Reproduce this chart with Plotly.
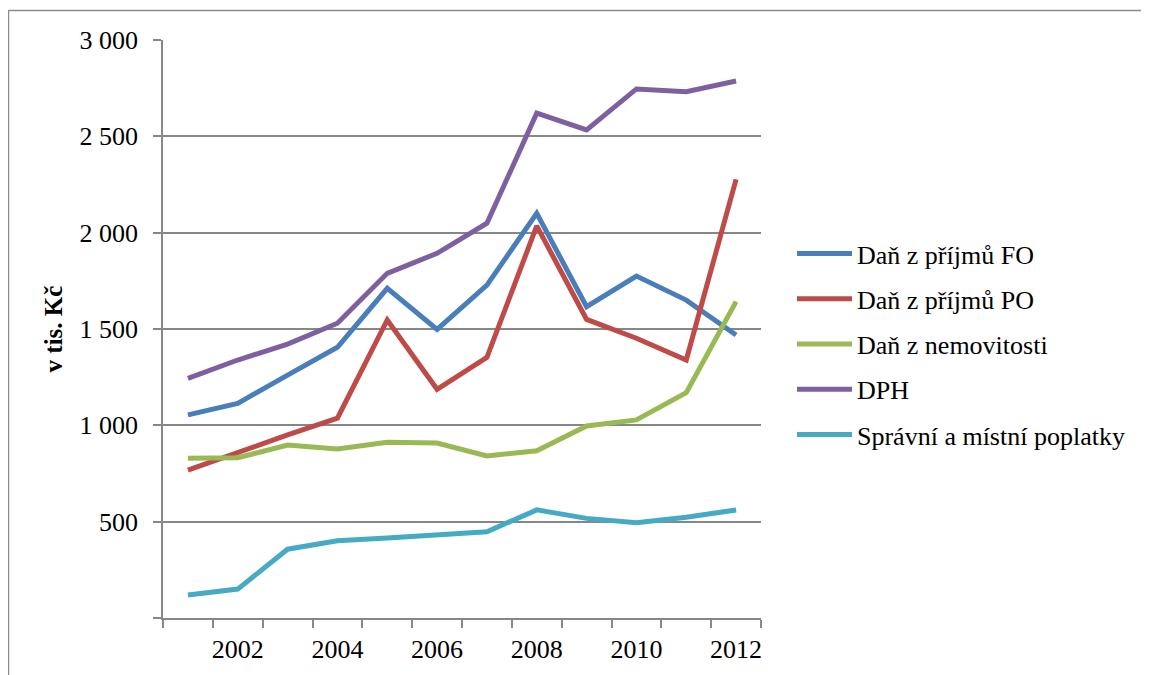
import plotly.graph_objects as go

years = list(range(2001, 2013))
dan_fo = [1054, 1114, 1261, 1405, 1711, 1498, 1728, 2100, 1616, 1775, 1650, 1469]
dan_po = [768, 860, 950, 1037, 1547, 1187, 1353, 2035, 1550, 1452, 1339, 2277]
dan_nem = [829, 832, 898, 877, 912, 908, 841, 868, 997, 1028, 1169, 1642]
dph = [1244, 1339, 1422, 1530, 1789, 1893, 2049, 2620, 2533, 2746, 2732, 2787]
poplatky = [119, 150, 357, 401, 415, 434, 448, 561, 517, 495, 523, 561]

series = [
    ("Daň z příjmů FO", dan_fo, "#4A7EBB"),
    ("Daň z příjmů PO", dan_po, "#BE4B48"),
    ("Daň z nemovitosti", dan_nem, "#98B954"),
    ("DPH", dph, "#7D60A0"),
    ("Správní a místní poplatky", poplatky, "#46AAC5"),
]

y_ticks = [0, 500, 1000, 1500, 2000, 2500, 3000]
y_labels = ["", "500", "1 000", "1 500", "2 000", "2 500", "3 000"]
x_label_years = [2002, 2004, 2006, 2008, 2010, 2012]
x_boundaries = [y - 0.5 for y in years] + [years[-1] + 0.5]

FONT = "Liberation Serif, Times New Roman, serif"
GRID = "#878787"

fig = go.Figure()
for i, (name, vals, col) in enumerate(series):
    fig.add_trace(go.Scatter(
        x=years, y=vals, name=name, mode="lines",
        line=dict(color=col, width=5), legendgroup=str(i),
    ))

# page has an 8px body margin; figure coords = page coords - 8
W, H = 1141, 667
L, R, T, B = 155, 753, 32, 610

fig.update_layout(
    width=W, height=H,
    margin=dict(l=L, r=W - R, t=T, b=H - B, pad=0, autoexpand=False),
    paper_bgcolor="white", plot_bgcolor="white",
    font=dict(family=FONT, size=26, color="black"),
    showlegend=True,
    legend=dict(
        x=(784 - L) / (R - L), y=(B - 222) / (B - T),
        xanchor="left", yanchor="top",
        font=dict(family=FONT, size=26, color="black"),
        tracegroupgap=8.5, itemwidth=55, bgcolor="rgba(0,0,0,0)",
    ),
    xaxis=dict(
        range=[years[0] - 0.5, years[-1] + 0.5],
        tickmode="array", tickvals=x_label_years,
        ticktext=[str(v) for v in x_label_years],
        ticks="", showgrid=False, zeroline=False, automargin=False,
        showline=True, linecolor=GRID, linewidth=1.5,
        tickfont=dict(family=FONT, size=26, color="black"),
        ticklabelstandoff=7,
        minor=dict(tickmode="array", tickvals=x_boundaries, ticks="outside",
                   ticklen=8, tickcolor=GRID, tickwidth=1.5, showgrid=False),
    ),
    yaxis=dict(
        range=[0, 3000], automargin=False,
        tickmode="array", tickvals=y_ticks, ticktext=y_labels,
        ticks="outside", ticklen=8, tickcolor=GRID, tickwidth=1.5,
        showgrid=True, gridcolor=GRID, gridwidth=1.5,
        zeroline=False, showline=True, linecolor=GRID, linewidth=1.5,
        tickfont=dict(family=FONT, size=26, color="black"),
        ticklabelstandoff=10,
        title=dict(text="<b>v tis. Kč</b>", standoff=10,
                   font=dict(family=FONT, size=25, color="black")),
    ),
)

# outer chart border
fig.add_shape(type="rect", xref="paper", yref="paper",
              x0=(0.5 - L) / (R - L), x1=(1180 - L) / (R - L),
              y0=(B - 720) / (B - T), y1=(B - 2.5) / (B - T),
              line=dict(color="#8c8c8c", width=1.5), layer="below")

fig.write_html("out.html")
